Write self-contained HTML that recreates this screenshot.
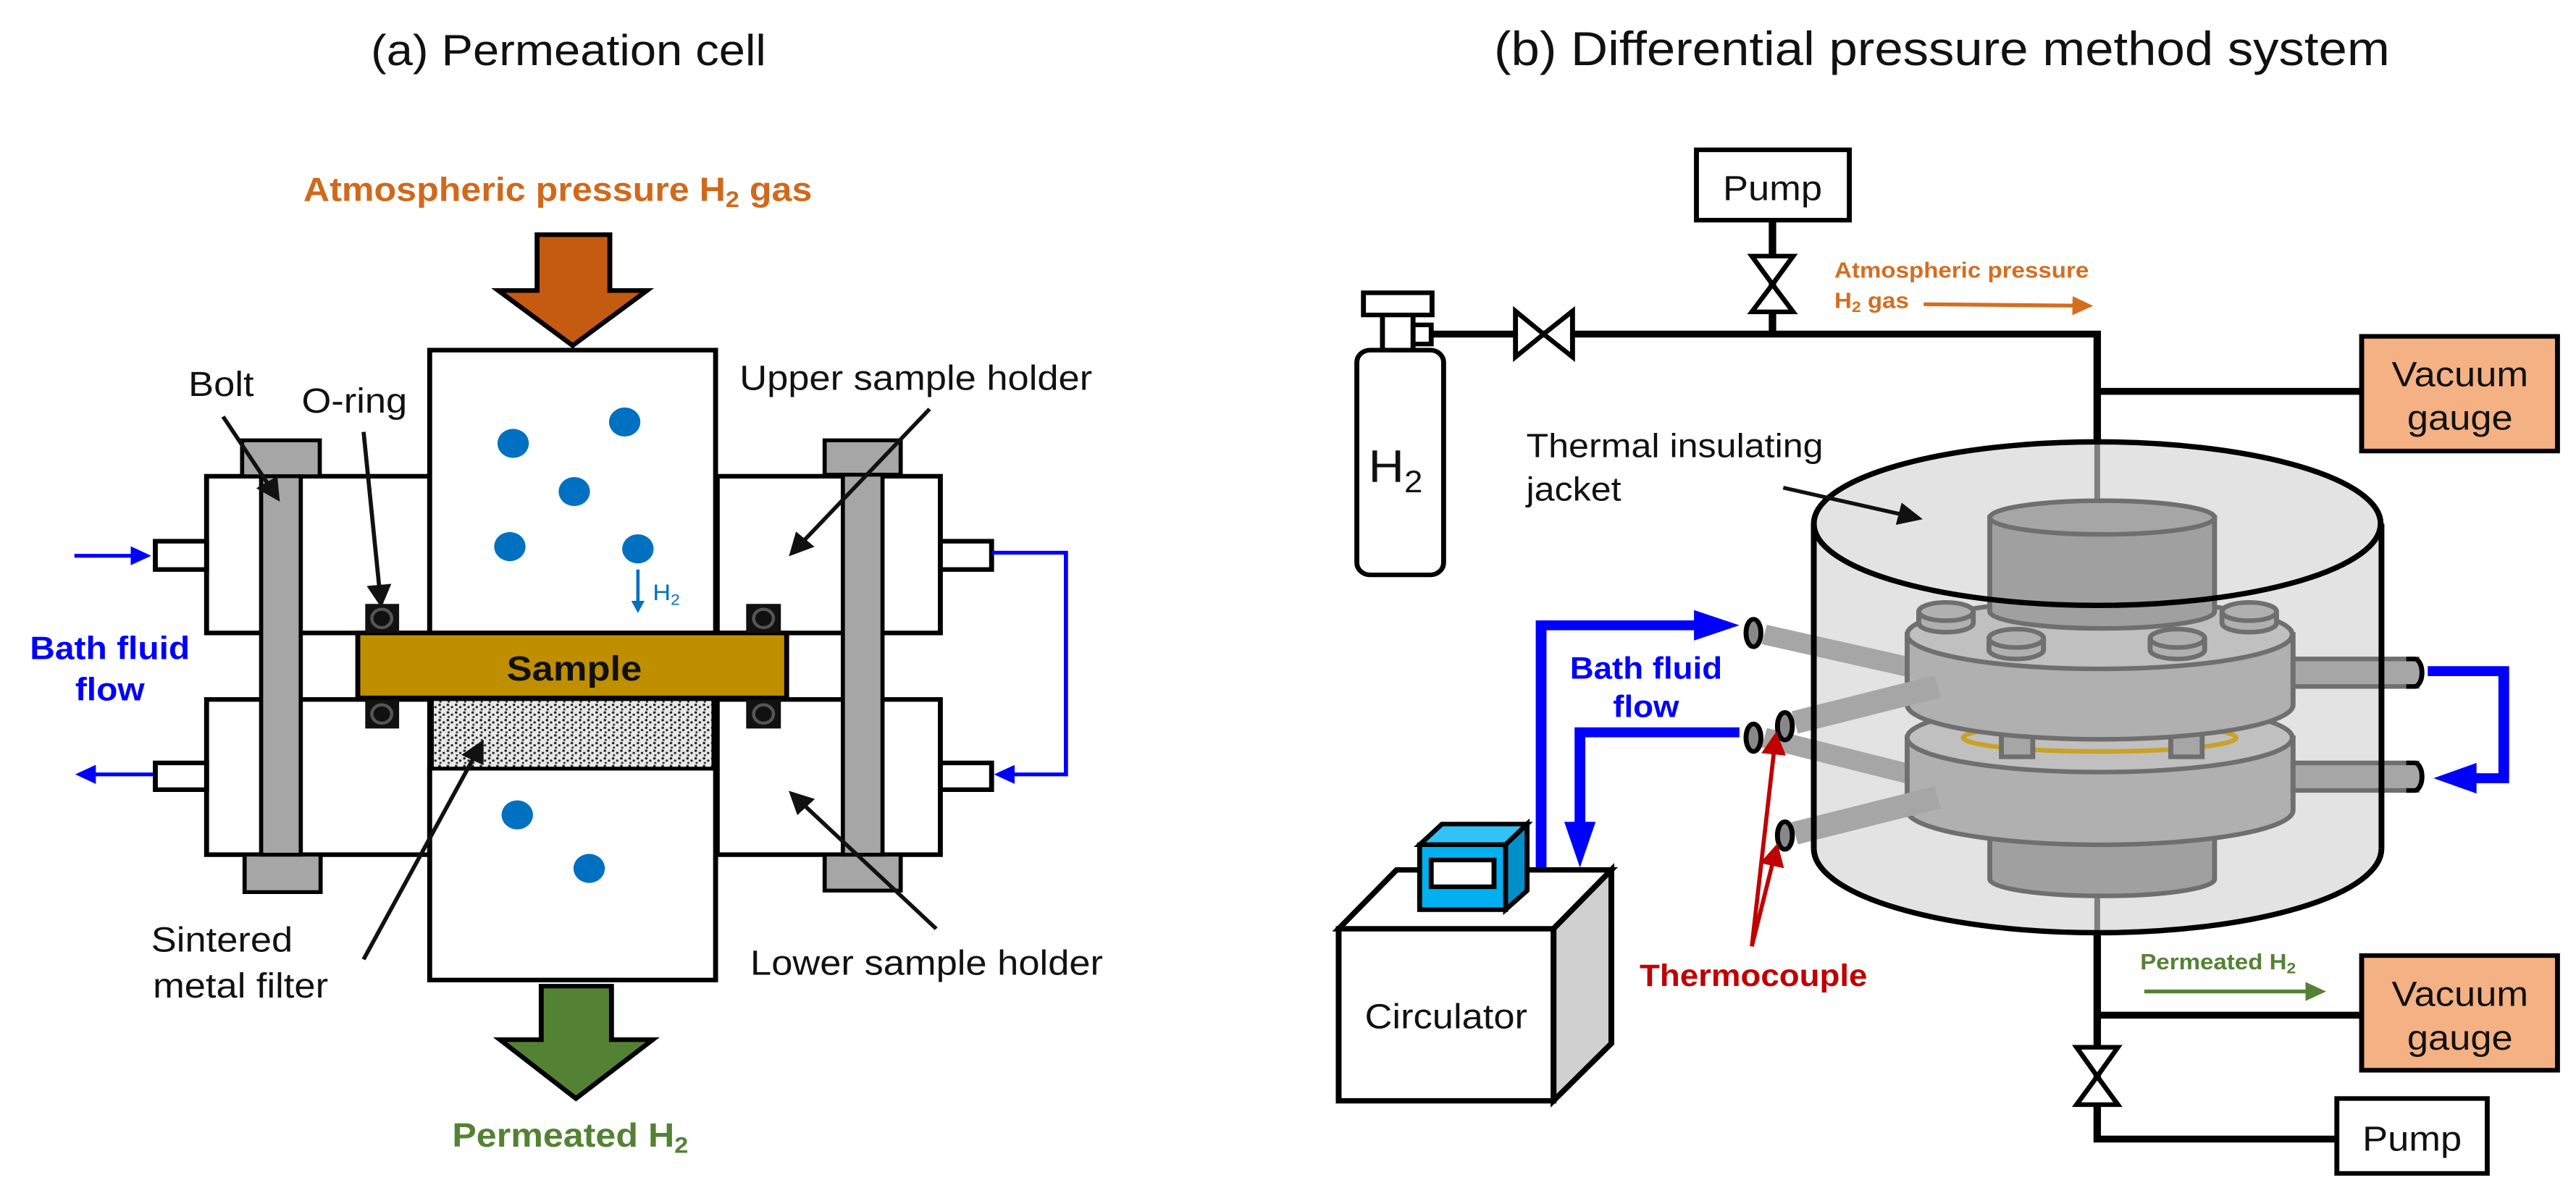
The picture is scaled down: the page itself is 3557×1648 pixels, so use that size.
<!DOCTYPE html>
<html><head><meta charset="utf-8"><style>
html,body{margin:0;padding:0;background:#fff;}
svg{display:block;}
text{font-family:"Liberation Sans","Noto Sans CJK KR",sans-serif;}
</style></head><body>
<svg width="3557" height="1648" viewBox="0 0 3557 1648" xmlns="http://www.w3.org/2000/svg">
<defs>
<pattern id="dots" width="10" height="10" patternUnits="userSpaceOnUse">
<rect width="10" height="10" fill="#e8e8e8"/>
<circle cx="2" cy="2" r="1.6" fill="#222"/><circle cx="7" cy="5" r="1.5" fill="#222"/><circle cx="3" cy="8" r="1.4" fill="#333"/>
</pattern>
<marker id="ab" markerWidth="6" markerHeight="6" refX="5" refY="3" orient="auto" markerUnits="strokeWidth"><path d="M0,0 L6,3 L0,6 z" fill="#111"/></marker>
<marker id="abl" markerWidth="5" markerHeight="5" refX="4" refY="2.5" orient="auto" markerUnits="strokeWidth"><path d="M0,0 L5,2.5 L0,5 z" fill="#0000ff"/></marker>
<marker id="abl2" markerWidth="4" markerHeight="4" refX="3" refY="2" orient="auto" markerUnits="strokeWidth"><path d="M0,0 L4,2 L0,4 z" fill="#0070c0"/></marker>
<marker id="aor" markerWidth="5" markerHeight="5" refX="4" refY="2.5" orient="auto" markerUnits="strokeWidth"><path d="M0,0 L5,2.5 L0,5 z" fill="#d46e1f"/></marker>
<marker id="agr" markerWidth="5" markerHeight="5" refX="4" refY="2.5" orient="auto" markerUnits="strokeWidth"><path d="M0,0 L5,2.5 L0,5 z" fill="#548235"/></marker>
<marker id="ared" markerWidth="6" markerHeight="6" refX="5" refY="3" orient="auto" markerUnits="strokeWidth"><path d="M0,0 L6,3 L0,6 z" fill="#c00000"/></marker>
</defs>

<!-- LEFT PANEL -->
<g transform="scale(1.141,1.056)">
<text x="688" y="85" font-size="57" text-anchor="middle" fill="#111">(a) Permeation cell</text>
<text x="675" y="263" font-size="44" font-weight="bold" text-anchor="middle" fill="#d0691c">Atmospheric pressure H<tspan font-size="30" dy="8">2</tspan><tspan dy="-8"> gas</tspan></text>
<polygon points="650,307 738,307 738,380 783,380 693,452 603,380 650,380" fill="#c55a11" stroke="#000" stroke-width="6" stroke-linejoin="miter"/>

<g fill="#fff" stroke="#000" stroke-width="6">
<rect x="250" y="623" width="270" height="205"/>
<rect x="250" y="915" width="270" height="203"/>
<rect x="868" y="623" width="270" height="205"/>
<rect x="868" y="915" width="270" height="203"/>
<rect x="188" y="708" width="62" height="37"/>
<rect x="188" y="998" width="62" height="35"/>
<rect x="1138" y="708" width="62" height="37"/>
<rect x="1138" y="998" width="62" height="35"/>
<rect x="520" y="458" width="346" height="370"/>
<rect x="520" y="1005" width="346" height="277"/>
</g>
<rect x="523" y="915" width="340" height="90" fill="url(#dots)" stroke="#000" stroke-width="4"/>
<g fill="#a6a6a6" stroke="#000" stroke-width="5">
<rect x="293" y="576" width="94" height="47"/>
<rect x="296" y="1118" width="92" height="49"/>
<rect x="316" y="623" width="48" height="495"/>
<rect x="998" y="576" width="92" height="45"/>
<rect x="998" y="1118" width="92" height="47"/>
<rect x="1020" y="621" width="48" height="497"/>
</g>
<rect x="433" y="828" width="519" height="85" fill="#bf8f00" stroke="#000" stroke-width="6"/>
<text x="695" y="890" font-size="46" font-weight="bold" text-anchor="middle" fill="#111">Sample</text>
<g fill="#111">
<rect x="442" y="790" width="41" height="38"/><rect x="442" y="915" width="41" height="38"/>
<rect x="903" y="790" width="42" height="38"/><rect x="903" y="915" width="42" height="38"/>
</g>
<g fill="none" stroke="#555" stroke-width="4">
<circle cx="462" cy="809" r="12"/><circle cx="462" cy="934" r="12"/><circle cx="924" cy="809" r="12"/><circle cx="924" cy="934" r="12"/>
</g>
<g fill="#0070c0">
<circle cx="621" cy="580" r="19"/><circle cx="756" cy="552" r="19"/><circle cx="695" cy="643" r="19"/>
<circle cx="617" cy="715" r="19"/><circle cx="772" cy="718" r="19"/><circle cx="626" cy="1066" r="19"/><circle cx="713" cy="1136" r="19"/>
</g>
<line x1="772" y1="745" x2="772" y2="798" stroke="#0070c0" stroke-width="4" marker-end="url(#abl2)"/>
<text x="790" y="785" font-size="30" fill="#0070c0">H<tspan font-size="20" dy="6">2</tspan></text>
<g stroke="#0000ff" stroke-width="5" fill="none">
<line x1="90" y1="727" x2="178" y2="727" marker-end="url(#abl)"/>
<line x1="185" y1="1013" x2="96" y2="1013" marker-end="url(#abl)"/>
<polyline points="1200,723 1290,723 1290,1013 1208,1013" marker-end="url(#abl)"/>
</g>
<text x="133" y="862" font-size="42" font-weight="bold" text-anchor="middle" fill="#0000ff">Bath fluid</text>
<text x="133" y="916" font-size="42" font-weight="bold" text-anchor="middle" fill="#0000ff">flow</text>
<g font-size="46" fill="#111">
<text x="228" y="518">Bolt</text>
<text x="365" y="540">O-ring</text>
<text x="895" y="510">Upper sample holder</text>
<text x="908" y="1275">Lower sample holder</text>
<text x="183" y="1245">Sintered</text>
<text x="185" y="1305">metal filter</text>
</g>
<g stroke="#111" stroke-width="5" fill="none">
<line x1="270" y1="545" x2="336" y2="652" marker-end="url(#ab)"/>
<line x1="440" y1="565" x2="461" y2="790" marker-end="url(#ab)"/>
<line x1="1125" y1="535" x2="958" y2="724" marker-end="url(#ab)"/>
<line x1="1133" y1="1215" x2="958" y2="1038" marker-end="url(#ab)"/>
<line x1="440" y1="1255" x2="583" y2="972" marker-end="url(#ab)"/>
</g>
<polygon points="655,1290 740,1290 740,1360 790,1360 697,1437 605,1360 655,1360" fill="#548235" stroke="#000" stroke-width="6"/>
<text x="690" y="1500" font-size="44" font-weight="bold" text-anchor="middle" fill="#548235">Permeated H<tspan font-size="30" dy="8">2</tspan></text>
</g>

<!-- RIGHT PANEL -->
<g transform="translate(1780,0) scale(1.141,1.056)">
<text x="790" y="85" font-size="62" text-anchor="middle" fill="#111">(b) Differential pressure method system</text>

<g stroke="#000" stroke-width="9" fill="none">
<line x1="585" y1="288" x2="585" y2="437"/>
<polyline points="172,437 978,437 978,580"/>
<line x1="978" y1="512" x2="1300" y2="512"/>
<polyline points="978,1222 978,1490 1268,1490"/>
<line x1="978" y1="1328" x2="1298" y2="1328"/>
</g>
<rect x="493" y="196" width="185" height="92" fill="#fff" stroke="#000" stroke-width="6"/>
<text x="585" y="262" font-size="46" text-anchor="middle" fill="#111">Pump</text>
<polygon points="560,335 610,335 585,372 610,408 560,408 585,372" fill="#fff" stroke="#000" stroke-width="6"/>
<polygon points="274,407 274,467 308,437 343,407 343,467 308,437" fill="#fff" stroke="#000" stroke-width="6"/>
<g fill="#fff" stroke="#000" stroke-width="6">
<rect x="150" y="425" width="22" height="25"/>
<rect x="113" y="410" width="37" height="50"/>
<rect x="90" y="383" width="83" height="29"/>
<rect x="82" y="458" width="105" height="294" rx="16"/>
</g>
<text x="96" y="630" font-size="60" fill="#111">H<tspan font-size="40" dy="14">2</tspan></text>
<rect x="1298" y="440" width="237" height="150" fill="#f4b183" stroke="#000" stroke-width="6"/>
<text x="1417" y="505" font-size="46" text-anchor="middle" fill="#111">Vacuum</text>
<text x="1417" y="562" font-size="46" text-anchor="middle" fill="#111">gauge</text>
<rect x="1298" y="1250" width="237" height="150" fill="#f4b183" stroke="#000" stroke-width="6"/>
<text x="1417" y="1316" font-size="46" text-anchor="middle" fill="#111">Vacuum</text>
<text x="1417" y="1373" font-size="46" text-anchor="middle" fill="#111">gauge</text>
<rect x="1268" y="1437" width="182" height="98" fill="#fff" stroke="#000" stroke-width="6"/>
<text x="1359" y="1505" font-size="46" text-anchor="middle" fill="#111">Pump</text>
<polygon points="953,1370 1003,1370 978,1408 1003,1445 953,1445 978,1408" fill="#fff" stroke="#000" stroke-width="6"/>

<text x="660" y="363" font-size="29" font-weight="bold" fill="#d46e1f">Atmospheric pressure</text>
<text x="660" y="403" font-size="29" font-weight="bold" fill="#d46e1f">H<tspan font-size="20" dy="5">2</tspan><tspan dy="-5"> gas</tspan></text>
<line x1="768" y1="398" x2="968" y2="400" stroke="#d46e1f" stroke-width="5" marker-end="url(#aor)"/>
<text x="1030" y="1268" font-size="29" font-weight="bold" fill="#548235">Permeated H<tspan font-size="20" dy="5">2</tspan></text>
<line x1="1035" y1="1297" x2="1250" y2="1297" stroke="#548235" stroke-width="5" marker-end="url(#agr)"/>

<path d="M635,685 A343,107 0 0 1 1322,685 L1322,1110 A343,110 0 0 1 635,1110 Z" fill="#e3e3e3"/>
<line x1="978" y1="580" x2="978" y2="655" stroke="#7f7f7f" stroke-width="7"/>
<line x1="978" y1="1170" x2="978" y2="1222" stroke="#7f7f7f" stroke-width="7"/>

<g stroke="#6f6f6f" stroke-width="6">
<path d="M848,1040 L848,1150 A136,22 0 0 0 1120,1150 L1120,1040 Z" fill="#a0a0a0"/>
<line x1="575" y1="830" x2="760" y2="875" stroke="#a6a6a6" stroke-width="26"/>
<line x1="575" y1="965" x2="760" y2="1015" stroke="#a6a6a6" stroke-width="26"/>
<path d="M748,965 L748,1060 A233,45 0 0 0 1215,1060 L1215,965 Z" fill="#b0b0b0"/>
<ellipse cx="981" cy="965" rx="233" ry="45" fill="#c0c0c0"/>
<ellipse cx="981" cy="965" rx="165" ry="18" fill="none" stroke="#c9a227" stroke-width="6"/>
<rect x="862" y="955" width="38" height="35" fill="#a6a6a6"/>
<rect x="1067" y="955" width="38" height="35" fill="#a6a6a6"/>
<path d="M748,830 L748,922 A233,45 0 0 0 1215,922 L1215,830 Z" fill="#b0b0b0"/>
<ellipse cx="981" cy="830" rx="233" ry="45" fill="#c0c0c0"/>
<path d="M848,677 L848,800 A136,22 0 0 0 1120,800 L1120,677 Z" fill="#a0a0a0"/>
<ellipse cx="984" cy="677" rx="136" ry="22" fill="#a6a6a6"/>
<g fill="#b0b0b0">
<path d="M762,800 L762,815 A33,12 0 0 0 828,815 L828,800"/><ellipse cx="795" cy="800" rx="33" ry="12"/>
<path d="M1129,800 L1129,815 A33,12 0 0 0 1195,815 L1195,800"/><ellipse cx="1162" cy="800" rx="33" ry="12"/>
<path d="M847,835 L847,850 A33,12 0 0 0 913,850 L913,835"/><ellipse cx="880" cy="835" rx="33" ry="12"/>
<path d="M1042,835 L1042,850 A33,12 0 0 0 1108,850 L1108,835"/><ellipse cx="1075" cy="835" rx="33" ry="12"/>
</g>
<rect x="1215" y="862" width="150" height="36" fill="#a6a6a6"/>
<rect x="1215" y="998" width="150" height="36" fill="#a6a6a6"/>
<line x1="612" y1="945" x2="785" y2="898" stroke="#a6a6a6" stroke-width="30"/>
<line x1="612" y1="1090" x2="785" y2="1043" stroke="#a6a6a6" stroke-width="30"/>
</g>
<g fill="#888" stroke="#000" stroke-width="6">
<ellipse cx="562" cy="828" rx="9" ry="18"/>
<ellipse cx="562" cy="965" rx="9" ry="18"/>
<ellipse cx="600" cy="950" rx="9" ry="18"/>
<ellipse cx="600" cy="1093" rx="9" ry="18"/>
<path d="M1352,862 L1362,862 A9,18 0 0 1 1362,898 L1352,898" fill="#a6a6a6"/>
<path d="M1352,998 L1362,998 A9,18 0 0 1 1362,1034 L1352,1034" fill="#a6a6a6"/>
</g>
<g fill="none" stroke="#000" stroke-width="7">
<ellipse cx="978" cy="685" rx="343" ry="107"/>
<line x1="635" y1="685" x2="635" y2="1110"/>
<line x1="1322" y1="685" x2="1322" y2="1110"/>
<path d="M635,1110 A343,110 0 0 0 1322,1110"/>
</g>

<text x="287" y="598" font-size="44" fill="#111">Thermal insulating</text>
<text x="287" y="655" font-size="44" fill="#111">jacket</text>
<line x1="598" y1="638" x2="762" y2="678" stroke="#111" stroke-width="5" marker-end="url(#ab)"/>

<g stroke="#0000ff" stroke-width="13" fill="none">
<polyline points="305,1137 305,818 500,818"/>
<polyline points="545,958 352,958 352,1085"/>
<polyline points="1378,878 1470,878 1470,1018 1430,1018"/>
</g>
<g fill="#0000ff">
<polygon points="490,798 545,818 490,838"/>
<polygon points="333,1075 371,1075 352,1135"/>
<polygon points="1437,998 1437,1038 1385,1018"/>
</g>
<text x="432" y="888" font-size="40" font-weight="bold" text-anchor="middle" fill="#0000ff">Bath fluid</text>
<text x="432" y="938" font-size="40" font-weight="bold" text-anchor="middle" fill="#0000ff">flow</text>

<g stroke="#c00000" stroke-width="5" fill="none">
<line x1="560" y1="1238" x2="589" y2="962" marker-end="url(#ared)"/>
<line x1="560" y1="1238" x2="590" y2="1108" marker-end="url(#ared)"/>
</g>
<text x="562" y="1290" font-size="40" font-weight="bold" text-anchor="middle" fill="#c00000">Thermocouple</text>

<g stroke="#000" stroke-width="7" stroke-linejoin="miter">
<polygon points="60,1215 130,1138 390,1138 320,1215" fill="#fff"/>
<polygon points="320,1215 390,1138 390,1365 320,1440" fill="#d0d0d0"/>
<rect x="60" y="1215" width="260" height="225" fill="#fff"/>
</g>
<text x="190" y="1345" font-size="46" text-anchor="middle" fill="#111">Circulator</text>
<g stroke="#000" stroke-width="6">
<polygon points="158,1105 185,1078 288,1078 262,1105" fill="#33c2f5"/>
<polygon points="262,1105 288,1078 288,1165 262,1190" fill="#0090c8"/>
<rect x="158" y="1105" width="104" height="85" fill="#00b0f0"/>
<rect x="172" y="1125" width="76" height="35" fill="#fff"/>
</g>
</g>
</svg>
</body></html>
